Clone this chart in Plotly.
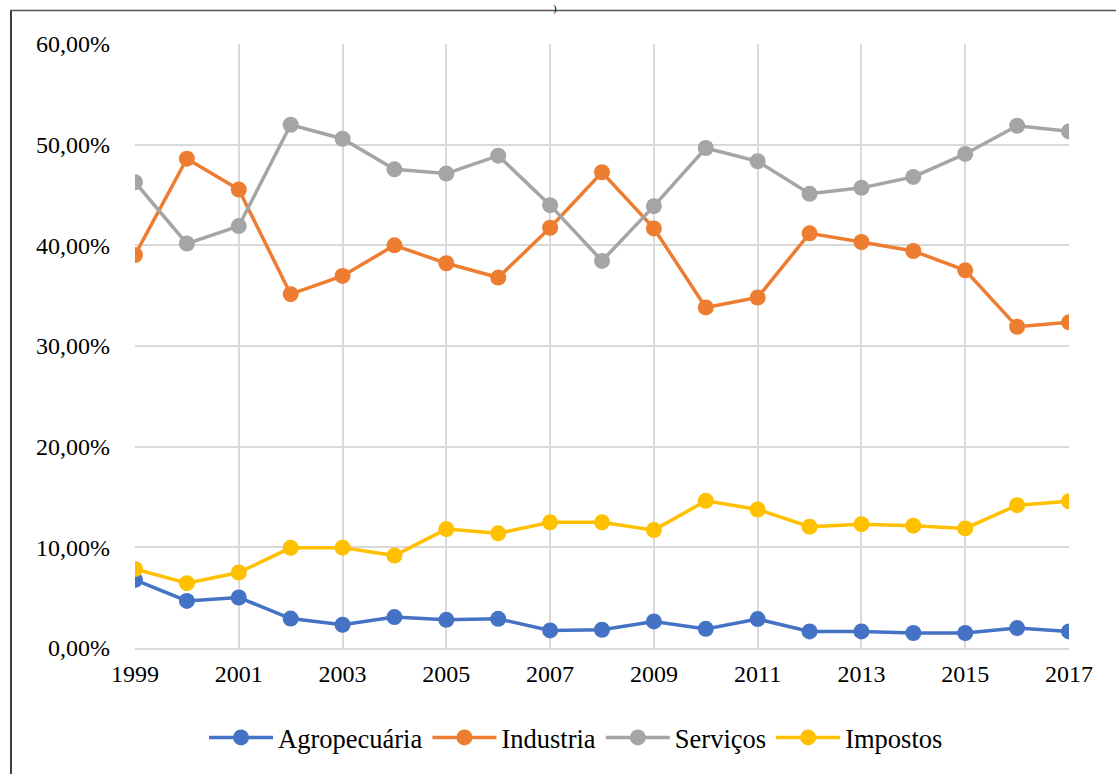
import plotly.graph_objects as go

# Participação setorial (em %), 1999-2017
anos = list(range(1999, 2018))
agropecuaria = [6.76, 4.68, 5.02, 2.92, 2.31, 3.07, 2.80, 2.90, 1.75, 1.81,
                2.64, 1.90, 2.87, 1.65, 1.65, 1.49, 1.49, 1.98, 1.65]
industria = [39.04, 48.61, 45.54, 35.15, 36.96, 40.00, 38.22, 36.80, 41.75, 47.26,
             41.68, 33.83, 34.82, 41.19, 40.33, 39.44, 37.52, 31.91, 32.35]
servicos = [46.27, 40.17, 41.91, 51.98, 50.59, 47.55, 47.13, 48.91, 43.99, 38.45,
            43.89, 49.67, 48.35, 45.12, 45.71, 46.80, 49.08, 51.88, 51.32]
impostos = [7.85, 6.44, 7.50, 9.95, 9.97, 9.18, 11.81, 11.39, 12.48, 12.48,
            11.71, 14.62, 13.76, 12.05, 12.30, 12.15, 11.88, 14.19, 14.58]

series = [
    ("Agropecuária", agropecuaria, "#4472C4"),
    ("Industria", industria, "#ED7D31"),
    ("Serviços", servicos, "#A5A5A5"),
    ("Impostos", impostos, "#FFC000"),
]

FONT = "Liberation Serif, Times New Roman, serif"
GRID = "#D9D9D9"

fig = go.Figure()
for nome, valores, cor in series:
    fig.add_trace(go.Scatter(
        x=anos, y=valores, name=nome, mode="lines+markers",
        line=dict(color=cor, width=3.5),
        marker=dict(color=cor, size=16),
    ))

# plot area geometry (pixels) used for the frame lines outside it
L, R, T, B = 135, 49, 44, 124
W, H = 1118, 774
pw, ph = W - L - R, H - T - B


def px_x(px):
    return (px - L) / pw


def px_y(py):
    return (H - B - py) / ph


fig.update_layout(
    width=W, height=H,
    margin=dict(l=L, r=R, t=T, b=B),
    paper_bgcolor="white", plot_bgcolor="white",
    separators=",.",
    font=dict(family=FONT, size=24, color="#000000"),
    showlegend=True,
    legend=dict(
        orientation="h", x=px_x(576), xanchor="center",
        y=px_y(740), yanchor="middle",
        font=dict(family=FONT, size=26.5, color="#000000"),
        itemwidth=64, tracegroupgap=0,
    ),
    shapes=[
        dict(type="line", xref="paper", yref="paper",
             x0=px_x(11), x1=px_x(11), y0=px_y(10), y1=px_y(780),
             line=dict(color="#000000", width=1.5)),
        dict(type="line", xref="paper", yref="paper",
             x0=px_x(10), x1=px_x(1116), y0=px_y(10.5), y1=px_y(10.5),
             line=dict(color="#555555", width=1.5)),
    ],
    annotations=[
        dict(text=")", xref="paper", yref="paper", x=px_x(555), y=px_y(0),
             xanchor="center", yanchor="top", showarrow=False,
             font=dict(family=FONT, size=11, color="#000000")),
    ],
)

fig.update_xaxes(
    range=[1999, 2017], tick0=1999, dtick=2,
    showgrid=True, gridcolor=GRID, gridwidth=2,
    showline=True, linecolor=GRID, linewidth=2,
    zeroline=False, ticks="", ticklabelstandoff=3,
    tickfont=dict(family=FONT, size=24, color="#000000"),
)
fig.update_yaxes(
    range=[0, 60], tick0=0, dtick=10,
    tickformat=".2f", ticksuffix="%",
    showgrid=True, gridcolor=GRID, gridwidth=2,
    showline=False, zeroline=False, ticks="",
    ticklabelstandoff=24,
    tickfont=dict(family=FONT, size=24, color="#000000"),
)

fig.write_html("out.html")
